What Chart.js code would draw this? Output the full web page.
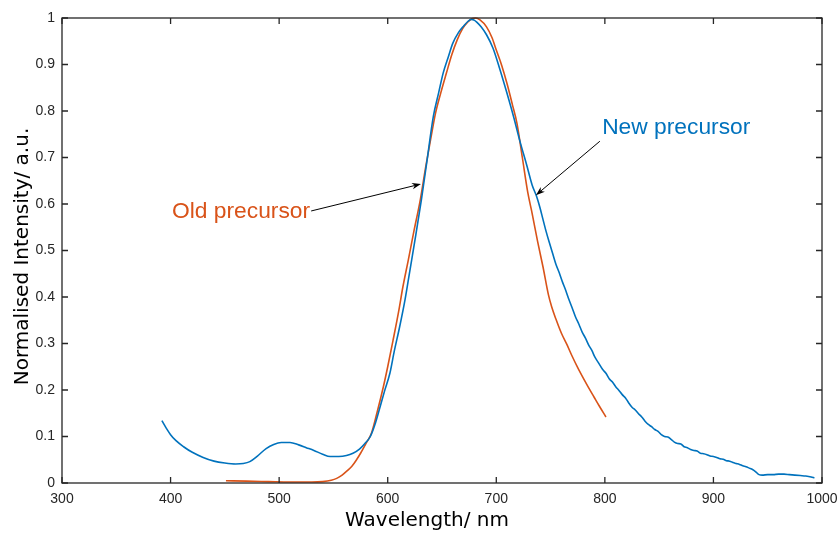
<!DOCTYPE html>
<html>
<head>
<meta charset="utf-8">
<script src="https://cdn.jsdelivr.net/npm/chart.js@4/dist/chart.umd.min.js"></script>
<style>
  html, body { margin: 0; padding: 0; background: #ffffff; }
  canvas { display: block; }
</style>
</head>
<body>
<canvas id="spectra" width="840" height="534"></canvas>
<script>
// Emission spectra, normalised to their maxima
const newWavelength = [
  392, 396, 400, 405, 412, 420, 430, 440, 450, 460, 467, 473, 480, 488, 495, 502,
  510, 518, 525, 532, 540, 547, 555, 562, 568, 574, 579, 584, 588, 593, 597, 602,
  606, 611, 616, 620, 626, 631, 636, 642, 647, 651, 656, 660, 665, 670, 674, 677,
  680, 682, 686, 691, 697, 703, 709, 716, 722, 728, 733, 737, 740, 743, 746, 749,
  752, 755, 758, 761, 764, 767, 770, 773, 776, 779, 782, 785, 788, 791, 794, 798,
  801, 804, 807, 810, 813, 816, 819, 822, 825, 828, 831, 834, 837, 840, 843, 846,
  849, 852, 855, 858, 861, 864, 867, 870, 873, 876, 879, 882, 885, 888, 891, 894,
  897, 900, 903, 906, 909, 912, 915, 918, 921, 924, 927, 930, 933, 936, 939, 942,
  945, 950, 955, 960, 965, 970, 975, 980, 985, 990, 993
];
const newIntensity = [
  0.134, 0.118, 0.104, 0.091, 0.078, 0.066, 0.055, 0.047, 0.043, 0.041, 0.042, 0.046, 0.058, 0.074, 0.083, 0.087,
  0.087, 0.082, 0.076, 0.070, 0.062, 0.057, 0.057, 0.059, 0.064, 0.073, 0.085, 0.100, 0.124, 0.164, 0.197, 0.236,
  0.283, 0.336, 0.395, 0.451, 0.535, 0.609, 0.690, 0.788, 0.840, 0.881, 0.918, 0.946, 0.968, 0.983, 0.993, 0.997,
  0.995, 0.991, 0.981, 0.964, 0.935, 0.892, 0.845, 0.787, 0.733, 0.684, 0.641, 0.617, 0.594, 0.567, 0.540, 0.516,
  0.493, 0.470, 0.452, 0.432, 0.414, 0.394, 0.376, 0.357, 0.342, 0.325, 0.312, 0.297, 0.285, 0.270, 0.259, 0.244,
  0.236, 0.224, 0.217, 0.207, 0.199, 0.190, 0.183, 0.172, 0.163, 0.157, 0.149, 0.142, 0.133, 0.126, 0.121, 0.115,
  0.111, 0.104, 0.100, 0.099, 0.094, 0.088, 0.085, 0.084, 0.078, 0.076, 0.072, 0.070, 0.069, 0.064, 0.063, 0.061,
  0.058, 0.057, 0.055, 0.052, 0.051, 0.048, 0.047, 0.044, 0.042, 0.040, 0.037, 0.035, 0.032, 0.029, 0.024, 0.018,
  0.017, 0.018, 0.018, 0.019, 0.019, 0.018, 0.017, 0.016, 0.015, 0.013, 0.011
];

const oldWavelength = [
  451, 470, 490, 510, 530, 540, 548, 553, 558, 563, 567, 571, 575, 580, 585, 590,
  596, 600, 605, 610, 614, 619, 624, 630, 635, 640, 644, 649, 654, 659, 664, 669,
  674, 678, 681, 685, 691, 696, 700, 705, 710, 715, 719, 724, 729, 733, 738, 743,
  748, 751, 755, 760, 765, 770, 775, 780, 785, 790, 795, 801
];
const oldIntensity = [
  0.005, 0.004, 0.003, 0.002, 0.002, 0.003, 0.006, 0.010, 0.017, 0.027, 0.036, 0.049, 0.064, 0.085, 0.107, 0.150,
  0.207, 0.250, 0.308, 0.368, 0.422, 0.480, 0.540, 0.609, 0.680, 0.745, 0.795, 0.840, 0.881, 0.921, 0.953, 0.977,
  0.992, 0.999, 1.000, 0.996, 0.981, 0.958, 0.931, 0.898, 0.858, 0.812, 0.774, 0.700, 0.625, 0.580, 0.520, 0.465,
  0.405, 0.379, 0.352, 0.322, 0.298, 0.272, 0.248, 0.226, 0.205, 0.185, 0.165, 0.142
];

const xTickValues = [300, 400, 500, 600, 700, 800, 900, 1000];
const yTickValues = [0, 0.1, 0.2, 0.3, 0.4, 0.5, 0.6, 0.7, 0.8, 0.9, 1];

const AXIS_COLOR = '#262626';
const NEW_COLOR = '#0072BD';
const OLD_COLOR = '#D95319';
const TICK_FONT = { family: "'Liberation Sans', Arial, sans-serif", size: 14 };
const TITLE_FONT = "20px 'DejaVu Sans', sans-serif";
const NOTE_FONT = "22.8px 'Liberation Sans', Arial, sans-serif";

const toPoints = (xs, ys) => xs.map((x, i) => ({ x: x, y: ys[i] }));

// Callout labels with arrows, placed in data coordinates
const callouts = [
  { text: 'Old precursor', color: OLD_COLOR, at: [528.5, 0.583], align: 'right',
    from: [529.5, 0.585], to: [630.6, 0.643] },
  { text: 'New precursor', color: NEW_COLOR, at: [797.5, 0.763], align: 'left',
    from: [795.4, 0.735], to: [736.5, 0.619] }
];

// Boxed axes with inward tick marks on all four sides
const framePlugin = {
  id: 'frame',
  afterDraw(chart) {
    const { ctx, chartArea: a, scales: { x, y } } = chart;
    const L = 6;
    ctx.save();
    ctx.strokeStyle = AXIS_COLOR;
    ctx.lineWidth = 1.3;
    ctx.beginPath();
    xTickValues.forEach(v => {
      const px = x.getPixelForValue(v);
      ctx.moveTo(px, a.bottom); ctx.lineTo(px, a.bottom - L);
      ctx.moveTo(px, a.top); ctx.lineTo(px, a.top + L);
    });
    yTickValues.forEach(v => {
      const py = y.getPixelForValue(v);
      ctx.moveTo(a.left, py); ctx.lineTo(a.left + L, py);
      ctx.moveTo(a.right, py); ctx.lineTo(a.right - L, py);
    });
    ctx.stroke();
    ctx.strokeRect(a.left, a.top, a.right - a.left, a.bottom - a.top);

    // axis titles
    ctx.fillStyle = '#000000';
    ctx.font = TITLE_FONT;
    ctx.textAlign = 'center';
    ctx.textBaseline = 'middle';
    ctx.fillText('Wavelength/ nm', (a.left + a.right) / 2 - 15, a.bottom + 38);
    ctx.save();
    ctx.translate(22.5, (a.top + a.bottom) / 2 + 6);
    ctx.rotate(-Math.PI / 2);
    ctx.fillText('Normalised Intensity/ a.u.', 0, 0);
    ctx.restore();
    ctx.restore();
  }
};

const calloutPlugin = {
  id: 'callouts',
  afterDatasetsDraw(chart) {
    const { ctx, scales: { x, y } } = chart;
    ctx.save();
    callouts.forEach(c => {
      ctx.font = NOTE_FONT;
      ctx.fillStyle = c.color;
      ctx.textAlign = c.align;
      ctx.textBaseline = 'middle';
      ctx.fillText(c.text, x.getPixelForValue(c.at[0]), y.getPixelForValue(c.at[1]));

      const x0 = x.getPixelForValue(c.from[0]), y0 = y.getPixelForValue(c.from[1]);
      const x1 = x.getPixelForValue(c.to[0]), y1 = y.getPixelForValue(c.to[1]);
      const ang = Math.atan2(y1 - y0, x1 - x0);
      const head = 9, half = 3.2;
      ctx.strokeStyle = '#000000';
      ctx.lineWidth = 1;
      ctx.beginPath();
      ctx.moveTo(x0, y0);
      ctx.lineTo(x1 - Math.cos(ang) * head * 0.7, y1 - Math.sin(ang) * head * 0.7);
      ctx.stroke();
      ctx.fillStyle = '#000000';
      ctx.beginPath();
      ctx.moveTo(x1, y1);
      ctx.lineTo(x1 - Math.cos(ang) * head + Math.sin(ang) * half, y1 - Math.sin(ang) * head - Math.cos(ang) * half);
      ctx.lineTo(x1 - Math.cos(ang) * head * 0.7, y1 - Math.sin(ang) * head * 0.7);
      ctx.lineTo(x1 - Math.cos(ang) * head - Math.sin(ang) * half, y1 - Math.sin(ang) * head + Math.cos(ang) * half);
      ctx.closePath();
      ctx.fill();
    });
    ctx.restore();
  }
};

new Chart(document.getElementById('spectra').getContext('2d'), {
  type: 'line',
  data: {
    datasets: [
      {
        label: 'New precursor',
        data: toPoints(newWavelength, newIntensity),
        borderColor: NEW_COLOR,
        borderWidth: 1.6,
        pointRadius: 0,
        cubicInterpolationMode: 'monotone',
        fill: false,
        clip: 4
      },
      {
        label: 'Old precursor',
        data: toPoints(oldWavelength, oldIntensity),
        borderColor: OLD_COLOR,
        borderWidth: 1.6,
        pointRadius: 0,
        cubicInterpolationMode: 'monotone',
        fill: false,
        clip: 4
      }
    ]
  },
  options: {
    responsive: false,
    animation: false,
    layout: { padding: { left: 0, right: 18, top: 18, bottom: 0 } },
    plugins: { legend: { display: false }, tooltip: { enabled: false } },
    scales: {
      x: {
        type: 'linear',
        min: 300,
        max: 1000,
        afterBuildTicks: s => { s.ticks = xTickValues.map(v => ({ value: v })); },
        afterFit: s => { s.height = 51; s.paddingLeft = 0; s.paddingRight = 0; },
        grid: { display: false, drawTicks: false },
        border: { display: false },
        ticks: { padding: 8, color: AXIS_COLOR, font: TICK_FONT, maxRotation: 0, autoSkip: false,
                 callback: v => String(v) }
      },
      y: {
        type: 'linear',
        min: 0,
        max: 1,
        afterBuildTicks: s => { s.ticks = yTickValues.map(v => ({ value: v })); },
        afterFit: s => { s.width = 62; s.paddingTop = 0; s.paddingBottom = 0; },
        grid: { display: false, drawTicks: false },
        border: { display: false },
        ticks: { padding: 7, color: AXIS_COLOR, font: TICK_FONT, autoSkip: false,
                 callback: v => String(v) }
      }
    }
  },
  plugins: [framePlugin, calloutPlugin]
});
</script>
</body>
</html>
